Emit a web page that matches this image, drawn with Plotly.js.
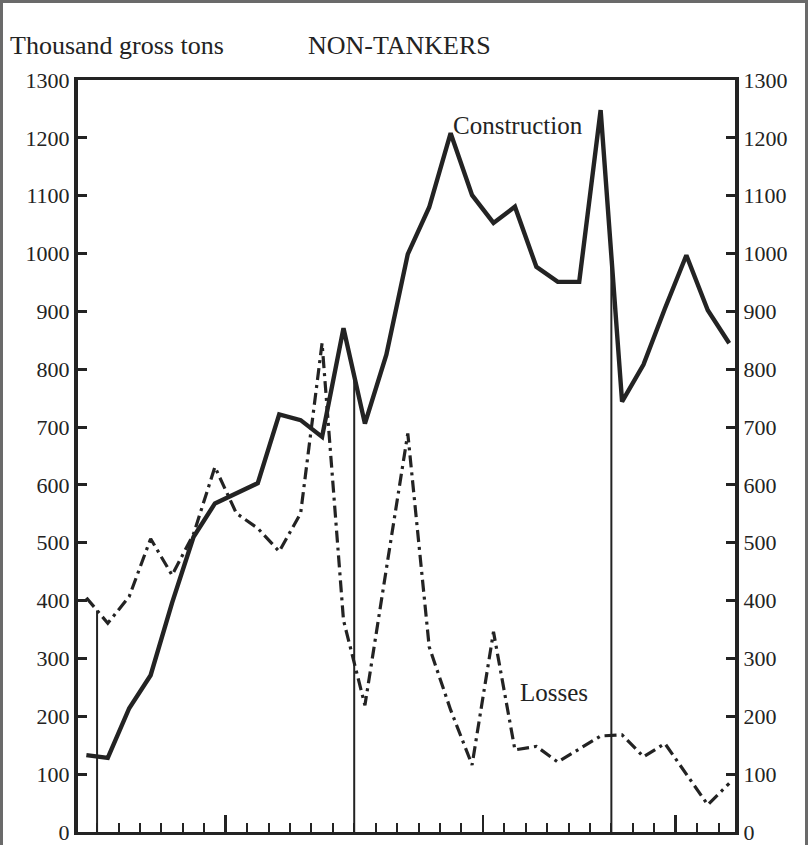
<!DOCTYPE html>
<html><head><meta charset="utf-8">
<script src="https://cdn.plot.ly/plotly-3.0.1.min.js"></script>
<style>body{margin:0;background:#fff}#chart{width:808px;height:845px}</style>
</head><body><div id="chart"></div>
<script>
// Months plotted (mid-month points), December 1941 to June 1944
const months = ['Dec 1941','Jan 1942','Feb 1942','Mar 1942','Apr 1942','May 1942','Jun 1942','Jul 1942','Aug 1942','Sep 1942','Oct 1942','Nov 1942','Dec 1942',
  'Jan 1943','Feb 1943','Mar 1943','Apr 1943','May 1943','Jun 1943','Jul 1943','Aug 1943','Sep 1943','Oct 1943','Nov 1943','Dec 1943',
  'Jan 1944','Feb 1944','Mar 1944','Apr 1944','May 1944','Jun 1944'];
// Thousand gross tons
const construction = [133,128,214,271,396,510,568,585,603,722,712,683,871,
  706,825,999,1080,1208,1101,1053,1081,977,951,951,1248,
  744,808,905,997,902,845];
const losses = [405,361,407,507,444,515,631,551,525,485,551,845,366,
  219,455,689,320,211,116,346,142,148,121,143,166,
  168,130,153,100,47,84];
// month boundaries (0 = 1 Jan 1942)
const yearStarts = [0,12,24];
const monthTicks = [0,1,2,3,4,5,6,7,8,9,10,11,12,13,14,15,16,17,18,19,20,21,22,23,24,25,26,27,28,29];
const tallTicks = [6,18,27];
const yTicks = [0,100,200,300,400,500,600,700,800,900,1000,1100,1200,1300];
const yTickText = ['0','100','200','300','400','500','600','700','800','900','1000','1100','1200','1300'];

const xPos = months.map((m,i)=> i - 0.5);
const ink = '#232323';
const font = 'Liberation Serif, Times New Roman, serif';

const L=78, R=735, T=80, B=832, W=808, H=845;
const px = x => (x - L)/(R - L);
const py = y => (B - y)/(B - T);

const traces = [];
yearStarts.forEach(s => {
  const hc = (construction[s] + construction[s+1]) / 2;
  const hl = (losses[s] + losses[s+1]) / 2;
  traces.push({x:[s,s], y:[0, Math.max(hc,hl)], mode:'lines', line:{color:ink, width:2}, hoverinfo:'skip', showlegend:false});
});
traces.push({x:xPos, y:losses, mode:'lines', name:'Losses', line:{color:ink, width:3.2, dash:'12px,5px,3px,5px'}, showlegend:false});
traces.push({x:xPos, y:construction, mode:'lines', name:'Construction', line:{color:ink, width:4.4}, showlegend:false});
traces.push({x:[tallTicks[0]], y:[0], xaxis:'x2', yaxis:'y2', mode:'markers', marker:{opacity:0}, hoverinfo:'skip', showlegend:false});

const layout = {
  width:W, height:H,
  margin:{l:L, r:W-R, t:T, b:H-B, pad:0},
  paper_bgcolor:'#fff', plot_bgcolor:'#fff',
  showlegend:false,
  xaxis:{range:[-0.89, 29.77], tickmode:'array', tickvals:monthTicks, ticks:'inside', ticklen:9, tickwidth:2, tickcolor:ink,
    showticklabels:false, showgrid:false, zeroline:false, showline:true, linewidth:3, linecolor:ink, mirror:true, fixedrange:true},
  xaxis2:{range:[-0.89, 29.77], overlaying:'x', tickmode:'array', tickvals:tallTicks, ticks:'inside', ticklen:17, tickwidth:2.5, tickcolor:ink,
    showticklabels:false, showgrid:false, zeroline:false, showline:false, side:'bottom', anchor:'y'},
  yaxis:{range:[0,1300], tickmode:'array', tickvals:yTicks, ticktext:yTickText, ticks:'inside', ticklen:9, tickwidth:3, tickcolor:ink,
    showgrid:false, zeroline:false, showline:true, linewidth:4, linecolor:ink, ticklabelstandoff:0,
    tickfont:{family:font, size:22, color:ink}},
  yaxis2:{range:[0,1300], overlaying:'y', side:'right', anchor:'x', tickmode:'array', tickvals:yTicks, ticktext:yTickText, ticks:'inside', ticklen:9, tickwidth:3, tickcolor:ink,
    showgrid:false, zeroline:false, showline:true, linewidth:4, linecolor:ink, ticklabelstandoff:0,
    tickfont:{family:font, size:22, color:ink}},
  annotations:[
    {xref:'paper', yref:'paper', x:px(8), y:py(45), xanchor:'left', yanchor:'middle', text:'Thousand gross tons', showarrow:false, font:{family:font, size:26, color:ink}},
    {xref:'paper', yref:'paper', x:px(306), y:py(45), xanchor:'left', yanchor:'middle', text:'NON-TANKERS', showarrow:false, font:{family:font, size:26, color:ink}},
    {xref:'x', yref:'y', x:19.65, y:1222, xanchor:'center', yanchor:'middle', text:'Construction', showarrow:false, font:{family:font, size:25, color:ink}},
    {xref:'x', yref:'y', x:21.3, y:242, xanchor:'center', yanchor:'middle', text:'Losses', showarrow:false, font:{family:font, size:25, color:ink}}
  ],
  shapes:[
    {type:'line', xref:'paper', yref:'paper', x0:px(1.5), x1:px(1.5), y0:py(0), y1:py(H), line:{color:'#6a6a6a', width:3}},
    {type:'line', xref:'paper', yref:'paper', x0:px(0), x1:px(W), y0:py(1.5), y1:py(1.5), line:{color:'#6a6a6a', width:3}},
    {type:'line', xref:'paper', yref:'paper', x0:px(806.5), x1:px(806.5), y0:py(0), y1:py(H), line:{color:'#6a6a6a', width:3}}
  ]
};
Plotly.newPlot('chart', traces, layout, {staticPlot:true, displayModeBar:false});
</script>
</body></html>
